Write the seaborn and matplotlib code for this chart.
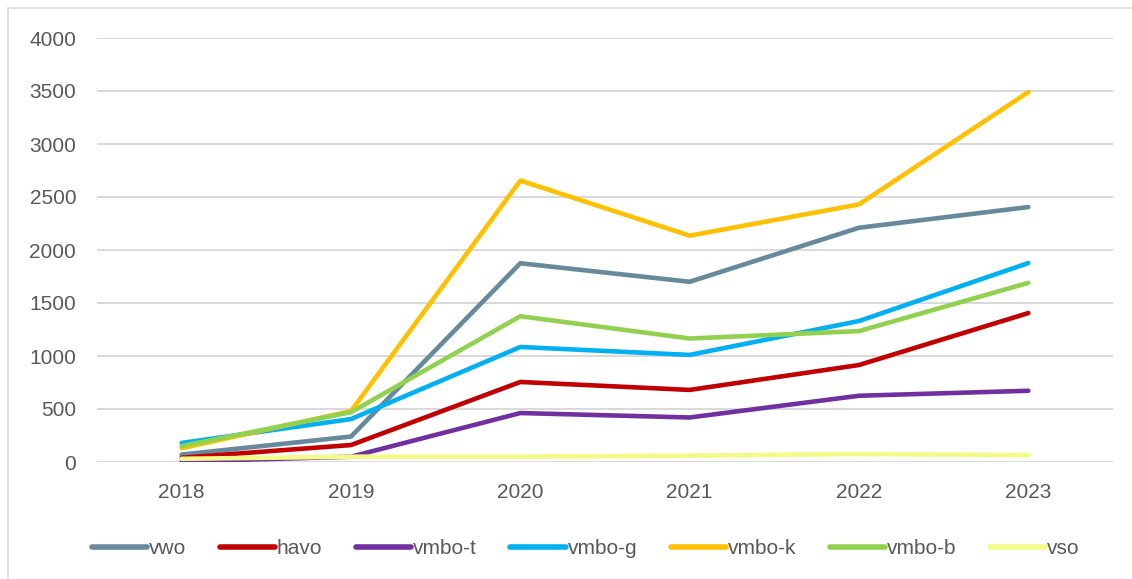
import pandas as pd
import matplotlib
matplotlib.use("Agg")
import matplotlib.pyplot as plt
import seaborn as sns
from matplotlib.patches import Rectangle

# data
years = ["2018", "2019", "2020", "2021", "2022", "2023"]
vwo = [70, 240, 1875, 1700, 2210, 2405]
havo = [40, 160, 755, 680, 915, 1405]
vmbo_t = [5, 50, 462, 420, 625, 672]
vmbo_g = [180, 405, 1085, 1010, 1330, 1877]
vmbo_k = [130, 480, 2655, 2135, 2430, 3490]
vmbo_b = [150, 470, 1375, 1165, 1235, 1690]
vso = [30, 50, 50, 60, 75, 65]

series = ["vwo", "havo", "vmbo-t", "vmbo-g", "vmbo-k", "vmbo-b", "vso"]
colors = ["#67899C", "#C00000", "#7030A0", "#00B0F0", "#FFC000", "#92D050", "#F4FA88"]

rows = []
for name, vals in zip(series, [vwo, havo, vmbo_t, vmbo_g, vmbo_k, vmbo_b, vso]):
    for y, v in zip(years, vals):
        rows.append({"jaar": y, "aantal": v, "richting": name})
df = pd.DataFrame(rows)

sns.set_style("white")
plt.rcParams["font.family"] = ["Liberation Sans", "DejaVu Sans"]

fig = plt.figure(figsize=(11.32, 5.79), dpi=100)
ax = fig.add_axes([97 / 1132, 1 - 462 / 579, 1016 / 1132, 424 / 579])

# outer chart border
fig.patches.append(Rectangle((8 / 1132, -0.05), 1.2, 1 - 8 / 579 + 0.05,
                             transform=fig.transFigure, fill=False,
                             edgecolor="#D9D9D9", linewidth=1.2))

sns.lineplot(data=df, x="jaar", y="aantal", hue="richting", hue_order=series,
             palette=dict(zip(series, colors)), linewidth=3.3, ax=ax,
             solid_capstyle="round", sort=False)

ax.set_ylim(0, 4000)
ax.set_xlim(-0.5, 5.5)
ax.set_yticks(range(0, 4001, 500))
ax.yaxis.grid(True, color="#D9D9D9", linewidth=1.4)
ax.set_axisbelow(True)
for s in ax.spines.values():
    s.set_visible(False)
ax.tick_params(axis="both", length=0, labelsize=15, colors="#595959")
ax.tick_params(axis="y", pad=15)
ax.tick_params(axis="x", pad=15)
ax.set_xlabel("")
ax.set_ylabel("")

leg = ax.legend(loc="center", bbox_to_anchor=(0.481, -0.205), ncol=7, frameon=False,
                fontsize=15, handlelength=2.65, columnspacing=1.6, handletextpad=0.1)
for t in leg.get_texts():
    t.set_color("#595959")
for h in leg.get_lines():
    h.set_linewidth(4)

fig.savefig("out.png", dpi=100)
